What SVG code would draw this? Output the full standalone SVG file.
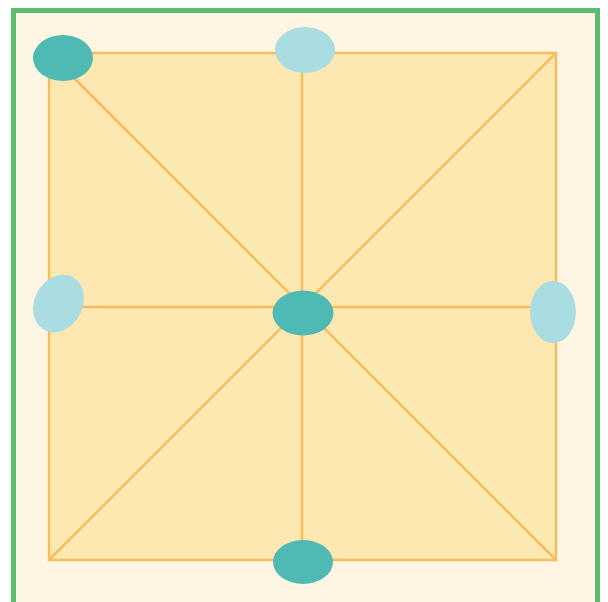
<svg xmlns="http://www.w3.org/2000/svg" width="608" height="602" viewBox="0 0 608 602">
<style>
.ln{stroke:#f5bd5e;stroke-width:2.5;fill:none}
.dk{fill:#4fbab3}
.lt{fill:#a9dde2}
</style>
<rect x="0" y="0" width="608" height="602" fill="#ffffff"/>
<rect x="13.5" y="10.5" width="584" height="600" fill="#fef6e3" stroke="#5cbd6f" stroke-width="5"/>
<rect x="49" y="53" width="507" height="507" fill="#fde8b2"/>
<g id="connectors">
<rect class="ln" x="49" y="53" width="507" height="507"/>
<line class="ln" x1="49" y1="53" x2="556" y2="560"/>
<line class="ln" x1="556" y1="53" x2="49" y2="560"/>
<line class="ln" x1="302" y1="53" x2="302" y2="560"/>
<line class="ln" x1="49" y1="307" x2="556" y2="307"/>
</g>
<g id="node-tl"><ellipse class="dk" cx="63" cy="58" rx="30" ry="23"/></g>
<g id="node-tm"><ellipse class="lt" cx="305" cy="50" rx="30" ry="23"/></g>
<g id="node-l"><ellipse class="lt" cx="58.5" cy="303.5" rx="30" ry="24" transform="rotate(-62 58.5 303.5)"/></g>
<g id="node-c"><ellipse class="dk" cx="303" cy="313" rx="30.5" ry="22.5"/></g>
<g id="node-r"><ellipse class="lt" cx="553" cy="312" rx="23" ry="31"/></g>
<g id="node-b"><ellipse class="dk" cx="303" cy="562" rx="30" ry="22"/></g>
</svg>
